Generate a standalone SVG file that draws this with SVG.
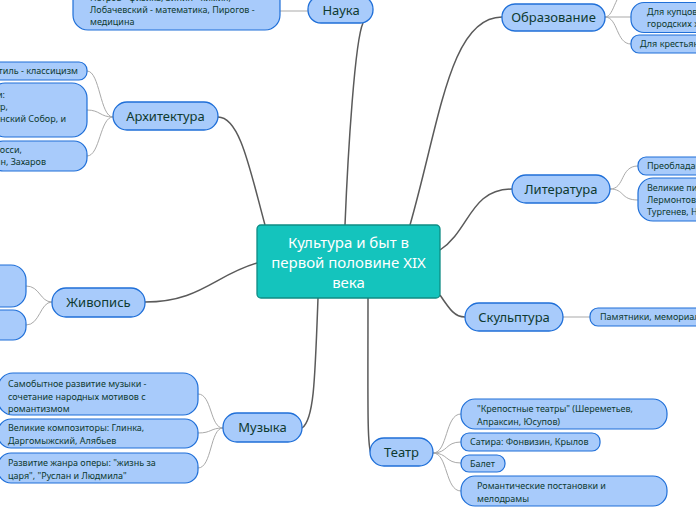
<svg xmlns="http://www.w3.org/2000/svg" width="696" height="520" viewBox="0 0 696 520">
<style>
.main{fill:#a8cbfb;stroke:#1f6fd8;stroke-width:1.3}
.sub{fill:#a8cbfb;stroke:#1f6fd8;stroke-width:1.2}
.t{font-family:"Noto Sans","Open Sans",sans-serif;font-size:13px;fill:#0e3a30;text-anchor:middle}
.s{font-family:"Noto Sans","Open Sans",sans-serif;font-size:9px;fill:#0e3a30}
.e{text-anchor:end}
.c1{fill:none;stroke:#5a5a5a;stroke-width:1.5}
.c2{fill:none;stroke:#a9a9a9;stroke-width:1}
</style>
<rect width="696" height="520" fill="#ffffff"/>
<g id="connectors">
<path class="c1" d="M345,225 C348,150 355,40 363,23"/>
<path class="c1" d="M265,225 C250,170 240,117 218,117"/>
<path class="c1" d="M410,225 C440,120 450,17 502,17"/>
<path class="c1" d="M440,250 C470,230 470,189 512,189"/>
<path class="c1" d="M440,295 C450,310 455,317 465,317"/>
<path class="c1" d="M368,298 C368,400 367,445 371,453"/>
<path class="c1" d="M318,298 C315,380 314,420 302,428"/>
<path class="c1" d="M257,263 C215,275 200,302 145,302"/>
<path class="c2" d="M308,11 L280,11"/>
<path class="c2" d="M605,17 C615,17 615,-12 631,-12"/>
<path class="c2" d="M605,17 L631,17"/>
<path class="c2" d="M605,17 C618,17 616,44 631,44"/>
<path class="c2" d="M610,189 C625,189 620,166 638,166"/>
<path class="c2" d="M610,189 C625,189 620,200 638,200"/>
<path class="c2" d="M563,317 L590,317"/>
<path class="c2" d="M433,453 C448,453 445,414 461,414"/>
<path class="c2" d="M433,453 C448,453 445,442 461,442"/>
<path class="c2" d="M433,453 C448,453 445,463 461,463"/>
<path class="c2" d="M433,453 C448,453 445,491 461,491"/>
<path class="c2" d="M223,428 C210,428 212,394 198,394"/>
<path class="c2" d="M223,428 C210,428 212,433 198,433"/>
<path class="c2" d="M223,428 C210,428 212,468 198,468"/>
<path class="c2" d="M52,302 C40,302 40,286 26,286"/>
<path class="c2" d="M52,302 C40,302 40,325 26,325"/>
<path class="c2" d="M113,117 C100,117 100,71 87,71"/>
<path class="c2" d="M113,117 C100,117 100,110 87,110"/>
<path class="c2" d="M113,117 C100,117 100,156 87,156"/>
</g>
<g id="center">
<rect x="257" y="225" width="183" height="73" rx="4" fill="#14c4bd" stroke="#0f8c84" stroke-width="1.3"/>
<text x="348.5" y="248" style="font-family:'Noto Sans','Open Sans',sans-serif;font-size:15px;fill:#ffffff;text-anchor:middle">Культура и быт в</text>
<text x="348.5" y="268" style="font-family:'Noto Sans','Open Sans',sans-serif;font-size:15px;fill:#ffffff;text-anchor:middle">первой половине XIX</text>
<text x="348.5" y="288" style="font-family:'Noto Sans','Open Sans',sans-serif;font-size:15px;fill:#ffffff;text-anchor:middle">века</text>
</g>
<g id="nauka">
<rect class="main" x="308" y="-4" width="65" height="27" rx="13"/>
<text class="t" x="341" y="15">Наука</text>
</g>
<g id="nauka-1">
<rect class="sub" x="73" y="-20" width="207" height="50" rx="15"/>
<text class="s" x="90" y="1">Петров - физика, Зинин - химия,</text>
<text class="s" x="90" y="13">Лобачевский - математика, Пирогов -</text>
<text class="s" x="90" y="25">медицина</text>
</g>
<g id="obrazovanie">
<rect class="main" x="502" y="4" width="103" height="27" rx="13"/>
<text class="t" x="553.5" y="22">Образование</text>
</g>
<g id="obr-1">
<rect class="sub" x="631" y="2.5" width="80" height="30" rx="13"/>
<text class="s" x="647" y="15">Для купцов и</text>
<text class="s" x="647" y="27">городских жителей</text>
</g>
<g id="obr-2">
<rect class="sub" x="631" y="35" width="80" height="18" rx="8"/>
<text class="s" x="640" y="47">Для крестьян</text>
</g>
<g id="arhitektura">
<rect class="main" x="113" y="102" width="105" height="28" rx="14"/>
<text class="t" x="165.5" y="121">Архитектура</text>
</g>
<g id="arh-1">
<rect class="sub" x="-10" y="62" width="97" height="18" rx="8"/>
<text class="s e" x="78" y="74">Главный стиль - классицизм</text>
</g>
<g id="arh-2">
<rect class="sub" x="-10" y="83" width="97" height="54" rx="15"/>
<text class="s e" x="5" y="98">Известные постройки:</text>
<text class="s e" x="8" y="110">Адмиралтейство, Большой театр,</text>
<text class="s e" x="66" y="122">Исаакиевский Собор, Казанский Собор, и</text>
</g>
<g id="arh-3">
<rect class="sub" x="-10" y="141" width="97" height="30" rx="13"/>
<text class="s e" x="22" y="153">Архитекторы: Монферран, Росси,</text>
<text class="s e" x="46" y="165">Воронихин, Захаров</text>
</g>
<g id="literatura">
<rect class="main" x="512" y="175" width="98" height="28" rx="14"/>
<text class="t" x="561" y="194">Литература</text>
</g>
<g id="lit-1">
<rect class="sub" x="638" y="157" width="80" height="18" rx="8"/>
<text class="s" x="647" y="169">Преобладание романтизма</text>
</g>
<g id="lit-2">
<rect class="sub" x="638" y="178" width="80" height="43" rx="15"/>
<text class="s" x="647" y="191">Великие писатели: Пушкин,</text>
<text class="s" x="647" y="203">Лермонтов, Гоголь,</text>
<text class="s" x="647" y="215">Тургенев, Некрасов</text>
</g>
<g id="zhivopis">
<rect class="main" x="52" y="288" width="93" height="29" rx="14"/>
<text class="t" x="98.5" y="307">Живопись</text>
</g>
<g id="zhiv-1">
<rect class="sub" x="-20" y="265" width="46" height="42" rx="15"/>
</g>
<g id="zhiv-2">
<rect class="sub" x="-20" y="310" width="46" height="30" rx="13"/>
</g>
<g id="skulptura">
<rect class="main" x="465" y="303" width="98" height="28" rx="14"/>
<text class="t" x="514" y="322">Скульптура</text>
</g>
<g id="sk-1">
<rect class="sub" x="590" y="308" width="120" height="18" rx="8"/>
<text class="s" x="600" y="320">Памятники, мемориалы</text>
</g>
<g id="muzyka">
<rect class="main" x="223" y="413" width="79" height="29" rx="14"/>
<text class="t" x="262.5" y="432">Музыка</text>
</g>
<g id="muz-1">
<rect class="sub" x="-2" y="373" width="200" height="42" rx="15"/>
<text class="s" x="8" y="387">Самобытное развитие музыки -</text>
<text class="s" x="8" y="400">сочетание народных мотивов с</text>
<text class="s" x="8" y="412">романтизмом</text>
</g>
<g id="muz-2">
<rect class="sub" x="-2" y="419" width="200" height="29" rx="13"/>
<text class="s" x="8" y="431">Великие композиторы: Глинка,</text>
<text class="s" x="8" y="444">Даргомыжский, Алябьев</text>
</g>
<g id="muz-3">
<rect class="sub" x="-2" y="453" width="200" height="30" rx="13"/>
<text class="s" x="8" y="466">Развитие жанра оперы: "жизнь за</text>
<text class="s" x="8" y="479">царя", "Руслан и Людмила"</text>
</g>
<g id="teatr">
<rect class="main" x="370" y="438" width="63" height="28" rx="14"/>
<text class="t" x="401.5" y="457">Театр</text>
</g>
<g id="teatr-1">
<rect class="sub" x="461" y="399" width="206" height="30" rx="14"/>
<text class="s" x="477" y="412">"Крепостные театры" (Шереметьев,</text>
<text class="s" x="477" y="425">Апраксин, Юсупов)</text>
</g>
<g id="teatr-2">
<rect class="sub" x="461" y="433" width="139" height="18" rx="8"/>
<text class="s" x="470" y="445">Сатира: Фонвизин, Крылов</text>
</g>
<g id="teatr-3">
<rect class="sub" x="461" y="455" width="44" height="17" rx="8"/>
<text class="s" x="470" y="467">Балет</text>
</g>
<g id="teatr-4">
<rect class="sub" x="461" y="476" width="206" height="30" rx="14"/>
<text class="s" x="477" y="489">Романтические постановки и</text>
<text class="s" x="477" y="502">мелодрамы</text>
</g>
</svg>
